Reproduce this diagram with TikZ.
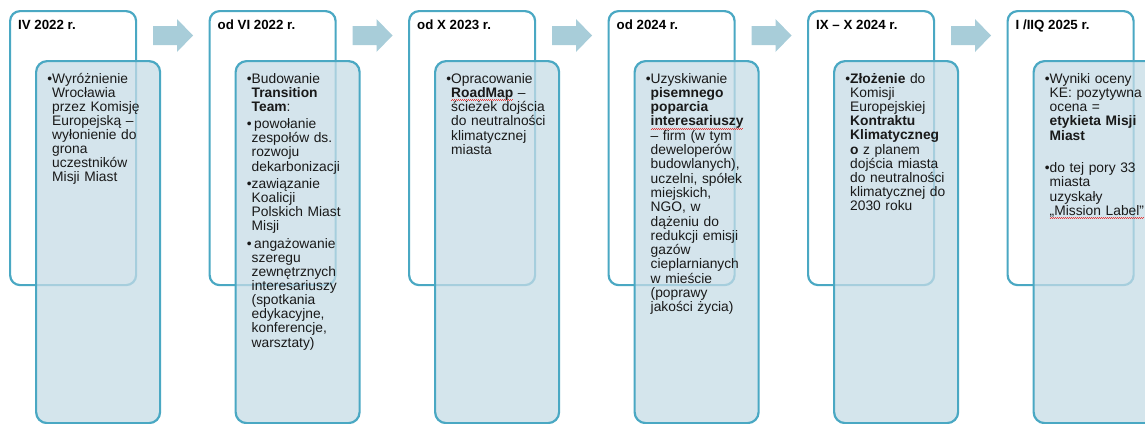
\documentclass[tikz,border=0pt]{standalone}
\usepackage{fontspec}
\setmainfont{Liberation Sans}
\definecolor{boxline}{HTML}{4AA8C3}
\definecolor{innerfill}{HTML}{C6DCE6}
\definecolor{arrowfill}{HTML}{A8CDD9}
\definecolor{wavered}{HTML}{E83A3A}
\newsavebox\wavebox
\newcommand\redwave[1]{\leavevmode\sbox\wavebox{#1}\rlap{\textcolor{wavered}{\hbox to \wd\wavebox{\leaders\hbox to 2pt{\rule[-3.3pt]{1pt}{0.6pt}\rule[-2.6pt]{1pt}{0.6pt}}\hfill}}}\usebox\wavebox}
\tikzset{
  outerbox/.style={draw=boxline, line width=2.2pt, fill=white, rounded corners=10pt,
    minimum width=126pt, minimum height=274pt, anchor=north west, inner sep=0pt},
  innerbox/.style={draw=boxline, line width=2.2pt, fill=innerfill, fill opacity=0.75,
    draw opacity=1, rounded corners=11pt,
    minimum width=124pt, minimum height=362pt, anchor=north west, inner sep=0pt},
  headtext/.style={font=\fontsize{13.3}{15}\selectfont\bfseries, anchor=base west, inner sep=0pt},
  bodytext/.style={font=\fontsize{13.8}{#1}\selectfont, text width=118pt, align=left,
    anchor=base west, inner sep=0pt, text=black!90},
  bodytext/.default=14.3,
  stepArrow/.style={fill=arrowfill, draw=none}
}
\newcommand\bl{\leavevmode\llap{•}}
\newcommand\sbl{\leavevmode\llap{•}\hspace{2.5pt}}
\begin{document}
\begin{tikzpicture}[x=1pt, y=-1pt]
\useasboundingbox (0,0) rectangle (1145,423);
\clip (0,0) rectangle (1145,423);

% column 1
\begin{scope}[xshift=0pt]
\node[outerbox] (o1) at (9,10) {};
\fill[stepArrow] (153,26) -- (177,26) -- (177,19) -- (193,35.5) -- (177,52) -- (177,45) -- (153,45) -- cycle;
\node[innerbox] (i1) at (35,60) {};
\node[headtext] (h1) at (18,29.5) {IV 2022 r.};
\node[bodytext=14.0] (b1) at (52,83) {\bl Wyróżnienie\\Wrocławia\\przez Komisję\\Europejską –\\wyłonienie do\\grona\\uczestników\\Misji Miast};
\end{scope}

% column 2
\begin{scope}[xshift=199.5pt]
\node[outerbox] (o2) at (9,10) {};
\fill[stepArrow] (153,26) -- (177,26) -- (177,19) -- (193,35.5) -- (177,52) -- (177,45) -- (153,45) -- cycle;
\node[innerbox] (i2) at (35,60) {};
\node[headtext] (h2) at (18,29.5) {od VI 2022 r.};
\node[bodytext=14.1] (b2) at (52,83) {\bl Budowanie\\{\bfseries Transition}\\{\bfseries Team}:\\[3.4pt]
\sbl powołanie\\zespołów ds.\\rozwoju\\dekarbonizacji\\[3.4pt]
\bl zawiązanie\\Koalicji\\Polskich Miast\\Misji\\[3.4pt]
\sbl angażowanie\\szeregu\\zewnętrznych\\interesariuszy\\(spotkania\\edykacyjne,\\konferencje,\\warsztaty)};
\end{scope}

% column 3
\begin{scope}[xshift=399pt]
\node[outerbox] (o3) at (9,10) {};
\fill[stepArrow] (153,26) -- (177,26) -- (177,19) -- (193,35.5) -- (177,52) -- (177,45) -- (153,45) -- cycle;
\node[innerbox] (i3) at (35,60) {};
\node[headtext] (h3) at (18,29.5) {od X 2023 r.};
\node[bodytext] (b3) at (52,83) {\bl Opracowanie\\{\bfseries\redwave{RoadMap}} –\\ścieżek dojścia\\do neutralności\\klimatycznej\\miasta};
\end{scope}

% column 4
\begin{scope}[xshift=598.5pt]
\node[outerbox] (o4) at (9,10) {};
\fill[stepArrow] (153,26) -- (177,26) -- (177,19) -- (193,35.5) -- (177,52) -- (177,45) -- (153,45) -- cycle;
\node[innerbox] (i4) at (35,60) {};
\node[headtext] (h4) at (18,29.5) {od 2024 r.};
\node[bodytext] (b4) at (52,83) {\bl Uzyskiwanie\\{\bfseries pisemnego}\\{\bfseries poparcia}\\{\bfseries\redwave{interesariuszy}}\\– firm (w tym\\deweloperów\\budowlanych),\\uczelni, spółek\\miejskich,\\NGO, w\\dążeniu do\\redukcji emisji\\gazów\\cieplarnianych\\w mieście\\(poprawy\\jakości życia)};
\end{scope}

% column 5
\begin{scope}[xshift=798pt]
\node[outerbox] (o5) at (9,10) {};
\fill[stepArrow] (153,26) -- (177,26) -- (177,19) -- (193,35.5) -- (177,52) -- (177,45) -- (153,45) -- cycle;
\node[innerbox] (i5) at (35,60) {};
\node[headtext] (h5) at (18,29.5) {IX – X 2024 r.};
\node[bodytext=14.2] (b5) at (52,83) {\bl{\bfseries Złożenie} do\\Komisji\\Europejskiej\\{\bfseries Kontraktu}\\{\bfseries Klimatyczneg}\\{\bfseries o} z planem\\dojścia miasta\\do neutralności\\klimatycznej do\\2030 roku};
\end{scope}

% column 6
\begin{scope}[xshift=997.5pt]
\node[outerbox] (o6) at (9,10) {};
\node[innerbox] (i6) at (35,60) {};
\node[headtext] (h6) at (18,29.5) {I /IIQ 2025 r.};
\node[bodytext] (b6) at (52,83) {\bl Wyniki oceny\\KE: pozytywna\\ocena =\\{\bfseries etykieta Misji}\\{\bfseries Miast}\\[18pt]
\bl do tej pory 33\\miasta\\uzyskały\\\redwave{„Mission Label”}};
\end{scope}
\end{tikzpicture}
\end{document}
